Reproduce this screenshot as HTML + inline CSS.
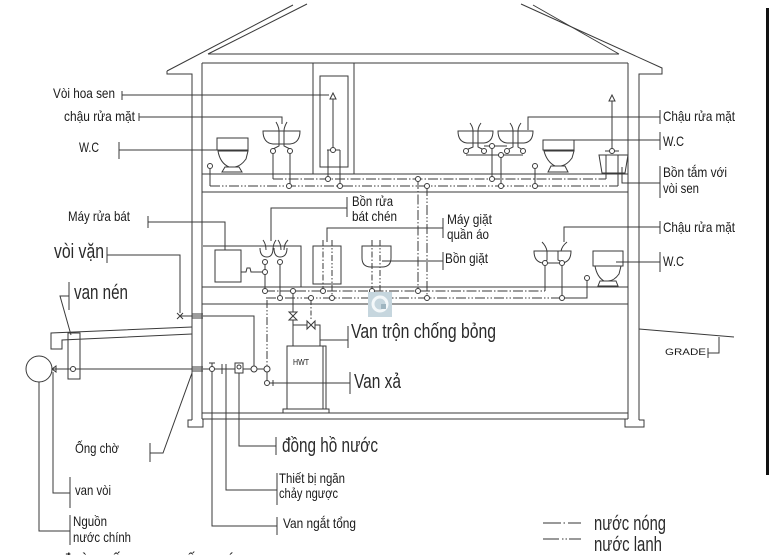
<!DOCTYPE html>
<html><head><meta charset="utf-8"><style>
html,body{margin:0;padding:0;background:#fff;}
svg{display:block;}
text{font-family:"Liberation Sans","DejaVu Sans",sans-serif;fill:#1a1a1a;}
.s{font-size:14px;}
.b{font-size:20px;fill:#2a2a2a;}
</style></head><body>
<svg width="772" height="555" viewBox="0 0 772 555" xmlns="http://www.w3.org/2000/svg">
<g stroke="#3a3a3a" stroke-width="1" fill="none">
<!-- roof -->
<path d="M167,71 L293,5"/>
<path d="M208,54 L307,4"/>
<path d="M208,54 L619,54"/>
<path d="M533,5 L619,54"/>
<path d="M521,4 L662,68 L662,74 L639,74 L639,420"/>
<path d="M167,71 L167,74 L192,74 L192,420"/>
<!-- inner walls / floors -->
<path d="M202,63 L202,419"/>
<path d="M628,63 L628,419"/>
<path d="M202,63 L628,63 M202,174 L628,174"/>
<path d="M202,192 L628,192 M202,287 L628,287"/>
<path d="M202,304 L628,304 M202,413 L628,413 M202,419 L628,419"/>
<path d="M192,420 L188,420 L188,427 L203,427 L203,419"/>
<path d="M628,419 L625,419 L625,427 L644,427 L644,420 L639,420"/>
<!-- top floor partitions / shower -->
<path d="M313,63 L313,174 M354,63 L354,174"/>
<rect x="320" y="76" width="28" height="91"/>
<path d="M330,99 L333,93 L336,99 Z"/>
<path d="M333,99 L333,150 M327,150 L340,150 M328,150 L328,179 M340,150 L340,186"/>
<!-- top left WC -->
<rect x="217" y="138" width="31" height="12"/>
<path d="M218,151 L248,151 L246,159 Q241,166 235,167 L229,167 Q220,163 218,151 Z"/>
<path d="M225,167 L239,167 L242,172 L222,172 Z"/>
<path d="M210,169 L210,186"/>
<!-- top left sink -->
<path d="M263,131 L300,131 Q300,143 290,144 L273,144 Q263,143 263,131 Z"/>
<path d="M276,122 Q279,127 279,131 M287,122 Q284,127 284,131 M279,131 L279,146 L273,149 M284,131 L284,146 L290,149"/>
<path d="M273,154 L273,179 M290,154 L290,186"/>
<!-- top right sinks -->
<path d="M458,131 L493,131 Q493,142 484,143 L467,143 Q458,142 458,131 Z"/>
<path d="M498,131 L533,131 Q533,142 524,143 L507,143 Q498,142 498,131 Z"/>
<path d="M470,123 Q473,127 473,131 M481,123 Q478,127 478,131 M473,131 L473,147 L466,150 M478,131 L478,147 L484,150"/>
<path d="M510,123 Q513,127 513,131 M521,123 Q518,127 518,131 M513,131 L513,147 L507,150 M518,131 L518,147 L523,150"/>
<path d="M484,146 L507,146 M466,155 L523,155 M492,146 L492,179 M501,155 L501,186"/>
<!-- top right WC -->
<rect x="543" y="140" width="31" height="10"/>
<path d="M544,151 L574,151 L572,158 Q567,165 561,166 L555,166 Q547,162 544,151 Z"/>
<path d="M551,166 L565,166 L568,172 L548,172 Z"/>
<path d="M535,169 L535,186"/>
<!-- bathtub -->
<path d="M599,155 L628,155 L625,173 L602,173 Z"/>
<path d="M609,101 L612,95 L615,101 Z M612,101 L612,151 M605,151 L619,151"/>
<path d="M606,155 L606,179 M618,155 L618,186"/>
<!-- floor2 counter + dishwasher + sink -->
<path d="M203,246 L301,246 L301,287"/>
<rect x="215" y="250" width="26" height="32"/>
<path d="M241,272 L246,272 L247,268 L250,268 L251,272 L262,272"/>
<path d="M260,248 Q260,257 267,257 Q273,257 273,248 M274,248 Q274,257 280,257 Q287,257 287,248"/>
<path d="M263,240 Q266,244 266,250 M276,240 Q273,244 273,250 M278,240 Q281,244 281,250 M288,240 Q284,244 284,250"/>
<path d="M265,265 L265,291 M280,265 L280,298"/>
<!-- washer + tub -->
<rect x="313" y="246" width="28" height="38"/>
<path d="M362,246 L391,246 L391,258 Q391,267 382,267 L371,267 Q362,267 362,258 Z"/>
<!-- floor2 right sink -->
<path d="M534,251 L571,251 Q571,262 562,263 L543,263 Q534,262 534,251 Z"/>
<path d="M542,242 Q546,246 547,251 M567,242 Q562,246 561,251 M547,251 L547,260 L545,262 M558,251 L558,260 L562,262"/>
<path d="M545,266 L545,291 M562,266 L562,298 L587,298 L587,281"/>
<!-- floor2 right WC -->
<rect x="593" y="251" width="30" height="15"/>
<path d="M595,266 L621,266 L619,274 Q614,281 608,281 L604,281 Q597,277 595,266 Z"/>
<path d="M600,281 L616,281 L618,286 L598,286 Z"/>
<!-- basement -->
<path d="M192,314 L203,314 M192,318 L203,318 M192,367 L203,367 M192,371 L203,371"/>
<path d="M52,369 L251,369 M257,369 L264,369"/>
<path d="M180,316 L254,316 L254,366"/>
<path d="M177,313 L183,319 M183,313 L177,319"/>
<path d="M267,372 L267,380 M270,383 L350,383 M273,380 L273,386 M350,372 L350,394"/>
<path d="M212,369 L212,363 M209,363 L215,363 M212,372 L212,526 L277,526 M277,517 L277,535"/>
<path d="M222,364 L222,374 M226,364 L226,374 M226,374 L226,490 L277,490 M277,473 L277,505"/>
<rect x="235" y="363" width="8" height="10" fill="#fff"/>
<circle cx="239" cy="367" r="2"/>
<path d="M239,373 L239,446 L276,446 M276,437 L276,455"/>
<path d="M293,294 L293,312 M289,312 L297,312 L289,320 L297,320 Z M293,320 L293,346 M293,325 L307,325"/>
<path d="M307,321 L307,329 L315,321 L315,329 Z M315,325 L320,325 L320,346 M320,340 L348,340 M348,326 L348,348"/>
<rect x="287" y="346" width="39" height="63" fill="#fff"/>
<rect x="283" y="409" width="46" height="4"/>
<path d="M323,346 L323,409 M287,383 L326,383"/>
<!-- left exterior -->
<circle cx="39" cy="369" r="13"/>
<path d="M52,369 L56,366 L56,372 Z"/>
<path d="M39,382 L39,531 L70,531 M70,515 L70,545"/>
<path d="M53,372 L53,493 L70,493 M70,477 L70,508"/>
<path d="M192,327 L51,333 L51,349 L62,349 L62,340 L192,334"/>
<rect x="68" y="333" width="12" height="46"/>
<path d="M150,443 L150,462 M150,453 L163,453 L192,373"/>
<path d="M69,282 L69,310 M69,296 L60,296 L71,335"/>
<path d="M107,247 L107,263 M107,255 L180,255 L180,313"/>
<path d="M148,216 L148,228 M148,222 L225,222 L225,250"/>
<!-- top-left leaders -->
<path d="M122,91 L122,100 M122,95 L329,95"/>
<path d="M139,113 L139,121 M139,117 L282,117 L282,124"/>
<path d="M119,142 L119,159 M119,150 L217,150"/>
<!-- right leaders -->
<path d="M660,110 L660,124 M660,117 L528,117 L528,130"/>
<path d="M660,132 L660,150 M660,140 L574,140"/>
<path d="M660,166 L660,198 M660,183 L622,183 L622,167"/>
<path d="M660,221 L660,234 M660,227 L564,227 L564,242"/>
<path d="M660,252 L660,272 M660,262 L616,262"/>
<!-- floor2 leaders -->
<path d="M347,197 L347,217 M347,208 L271,208 L271,241"/>
<path d="M443,218 L443,238 M443,228 L327,228 L327,242"/>
<path d="M443,252 L443,270 M443,261 L382,261"/>
<!-- grade -->
<path d="M639,329 L734,337 M719,337 L719,353 L708,353 M708,348 L708,358"/>
</g>
<!-- pipes -->
<g stroke="#3a3a3a" stroke-width="1" fill="none">
<path d="M273,179 L606,179" stroke-dasharray="10 2 1.5 2"/>
<path d="M210,186 L618,186" stroke-dasharray="10 2 1.5 2 1.5 2"/>
<path d="M418,179 L418,291" stroke-dasharray="10 2 1.5 2"/>
<path d="M427,186 L427,298" stroke-dasharray="10 2 1.5 2 1.5 2"/>
<path d="M265,291 L545,291" stroke-dasharray="10 2 1.5 2"/>
<path d="M266,298 L562,298" stroke-dasharray="10 2 1.5 2 1.5 2"/>
<path d="M323,240 L323,291 M372,240 L372,291" stroke-dasharray="6 2 1.5 2"/>
<path d="M332,240 L332,298 M380,240 L380,298" stroke-dasharray="6 2 1.5 2 1.5 2"/>
<path d="M267,300 L267,366" stroke-dasharray="8 2 1.5 2 1.5 2"/>
<path d="M311,300 L311,321" stroke-dasharray="5 2 1.5 2"/>
</g>
<!-- fittings circles -->
<g stroke="#3a3a3a" stroke-width="1" fill="#fff">
<circle cx="273" cy="151" r="2.5"/><circle cx="290" cy="151" r="2.5"/>
<circle cx="210" cy="166" r="2.5"/><circle cx="333" cy="150" r="2.5"/>
<circle cx="328" cy="179" r="2.5"/><circle cx="340" cy="186" r="2.5"/>
<circle cx="289" cy="186" r="2.5"/>
<circle cx="418" cy="179" r="2.5"/><circle cx="427" cy="186" r="2.5"/>
<circle cx="492" cy="179" r="2.5"/><circle cx="501" cy="186" r="2.5"/>
<circle cx="535" cy="186" r="2.5"/><circle cx="535" cy="166" r="2.5"/>
<circle cx="466" cy="151" r="2.5"/><circle cx="484" cy="151" r="2.5"/>
<circle cx="507" cy="151" r="2.5"/><circle cx="523" cy="151" r="2.5"/>
<circle cx="492" cy="146" r="2.5"/><circle cx="501" cy="155" r="2.5"/>
<circle cx="612" cy="151" r="2.5"/>
<circle cx="265" cy="262" r="2.5"/><circle cx="280" cy="262" r="2.5"/>
<circle cx="265" cy="272" r="2.5"/>
<circle cx="265" cy="291" r="2.5"/><circle cx="280" cy="298" r="2.5"/>
<circle cx="293" cy="291" r="2.5"/><circle cx="311" cy="298" r="2.5"/>
<circle cx="323" cy="291" r="2.5"/><circle cx="332" cy="298" r="2.5"/>
<circle cx="372" cy="291" r="2.5"/><circle cx="380" cy="298" r="2.5"/>
<circle cx="418" cy="291" r="2.5"/><circle cx="427" cy="298" r="2.5"/>
<circle cx="545" cy="263" r="2.5"/><circle cx="562" cy="263" r="2.5"/>
<circle cx="562" cy="298" r="2.5"/><circle cx="587" cy="278" r="2.5"/>
<circle cx="254" cy="369" r="3"/><circle cx="267" cy="369" r="3"/>
<circle cx="267" cy="383" r="2.5"/>
<circle cx="73" cy="369" r="2.5"/>
<circle cx="212" cy="369" r="2.5"/>
</g>
<!-- watermark -->
<rect x="368" y="292" width="24" height="25" fill="#c6d6de"/>
<circle cx="380" cy="304" r="7" fill="none" stroke="#f4f8fa" stroke-width="3"/>
<rect x="381" y="304" width="5" height="5" fill="#9fb5c0"/>
<!-- right bar -->
<rect x="766" y="8" width="3" height="467" fill="#111"/>
<!-- legend -->
<g stroke="#333" stroke-width="1">
<path d="M543,523 L561,523 M563.5,523 L565,523 M568,523 L581,523"/>
<path d="M543,539 L559,539 M562,539 L563.5,539 M565.5,539 L567,539 M569,539 L581,539"/>
</g>
<!-- text -->
<text class="s" x="53" y="98" textLength="62" lengthAdjust="spacingAndGlyphs">Vòi hoa sen</text>
<text class="s" x="64" y="121" textLength="71" lengthAdjust="spacingAndGlyphs">chậu rửa mặt</text>
<text class="s" x="79" y="152" textLength="20" lengthAdjust="spacingAndGlyphs">W.C</text>
<text class="s" x="68" y="221" textLength="62" lengthAdjust="spacingAndGlyphs">Máy rửa bát</text>
<text class="b" x="54" y="258" textLength="50" lengthAdjust="spacingAndGlyphs">vòi vặn</text>
<text class="b" x="74" y="299" textLength="54" lengthAdjust="spacingAndGlyphs">van nén</text>
<text class="s" x="75" y="453" textLength="44" lengthAdjust="spacingAndGlyphs">Ống chờ</text>
<text class="s" x="75" y="495" textLength="36" lengthAdjust="spacingAndGlyphs">van vòi</text>
<text class="s" x="73" y="526" textLength="34" lengthAdjust="spacingAndGlyphs">Nguồn</text>
<text class="s" x="73" y="542" textLength="58" lengthAdjust="spacingAndGlyphs">nước chính</text>
<text class="s" x="62" y="564" style="font-size:16px" textLength="182" lengthAdjust="spacingAndGlyphs">đường ống cung cấp nước</text>
<text class="s" x="279" y="483" textLength="66" lengthAdjust="spacingAndGlyphs">Thiết bị ngăn</text>
<text class="s" x="279" y="498" textLength="59" lengthAdjust="spacingAndGlyphs">chảy ngược</text>
<text class="s" x="283" y="528" textLength="73" lengthAdjust="spacingAndGlyphs">Van ngắt tổng</text>
<text class="b" x="282" y="452" textLength="96" lengthAdjust="spacingAndGlyphs">đồng hồ nước</text>
<text class="b" x="354" y="388" textLength="47" lengthAdjust="spacingAndGlyphs">Van xả</text>
<text class="b" x="351" y="338" textLength="145" lengthAdjust="spacingAndGlyphs">Van trộn chống bỏng</text>
<text x="293" y="365" style="font-size:8px" textLength="16" lengthAdjust="spacingAndGlyphs">HWT</text>
<text class="s" x="663" y="121" textLength="72" lengthAdjust="spacingAndGlyphs">Chậu rửa mặt</text>
<text class="s" x="663" y="146" textLength="21" lengthAdjust="spacingAndGlyphs">W.C</text>
<text class="s" x="663" y="177" textLength="64" lengthAdjust="spacingAndGlyphs">Bồn tắm với</text>
<text class="s" x="663" y="193" textLength="36" lengthAdjust="spacingAndGlyphs">vòi sen</text>
<text class="s" x="352" y="206" textLength="41" lengthAdjust="spacingAndGlyphs">Bồn rửa</text>
<text class="s" x="352" y="221" textLength="45" lengthAdjust="spacingAndGlyphs">bát chén</text>
<text class="s" x="447" y="224" textLength="45" lengthAdjust="spacingAndGlyphs">Máy giặt</text>
<text class="s" x="447" y="239" textLength="42" lengthAdjust="spacingAndGlyphs">quần áo</text>
<text class="s" x="445" y="263" textLength="43" lengthAdjust="spacingAndGlyphs">Bồn giặt</text>
<text class="s" x="663" y="232" textLength="72" lengthAdjust="spacingAndGlyphs">Chậu rửa mặt</text>
<text class="s" x="663" y="266" textLength="21" lengthAdjust="spacingAndGlyphs">W.C</text>
<text x="665" y="355" style="font-size:9px" textLength="41" lengthAdjust="spacingAndGlyphs">GRADE</text>
<text class="b" x="594" y="530" textLength="72" lengthAdjust="spacingAndGlyphs">nước nóng</text>
<text class="b" x="594" y="551" textLength="68" lengthAdjust="spacingAndGlyphs">nước lanh</text>
</svg>
</body></html>
